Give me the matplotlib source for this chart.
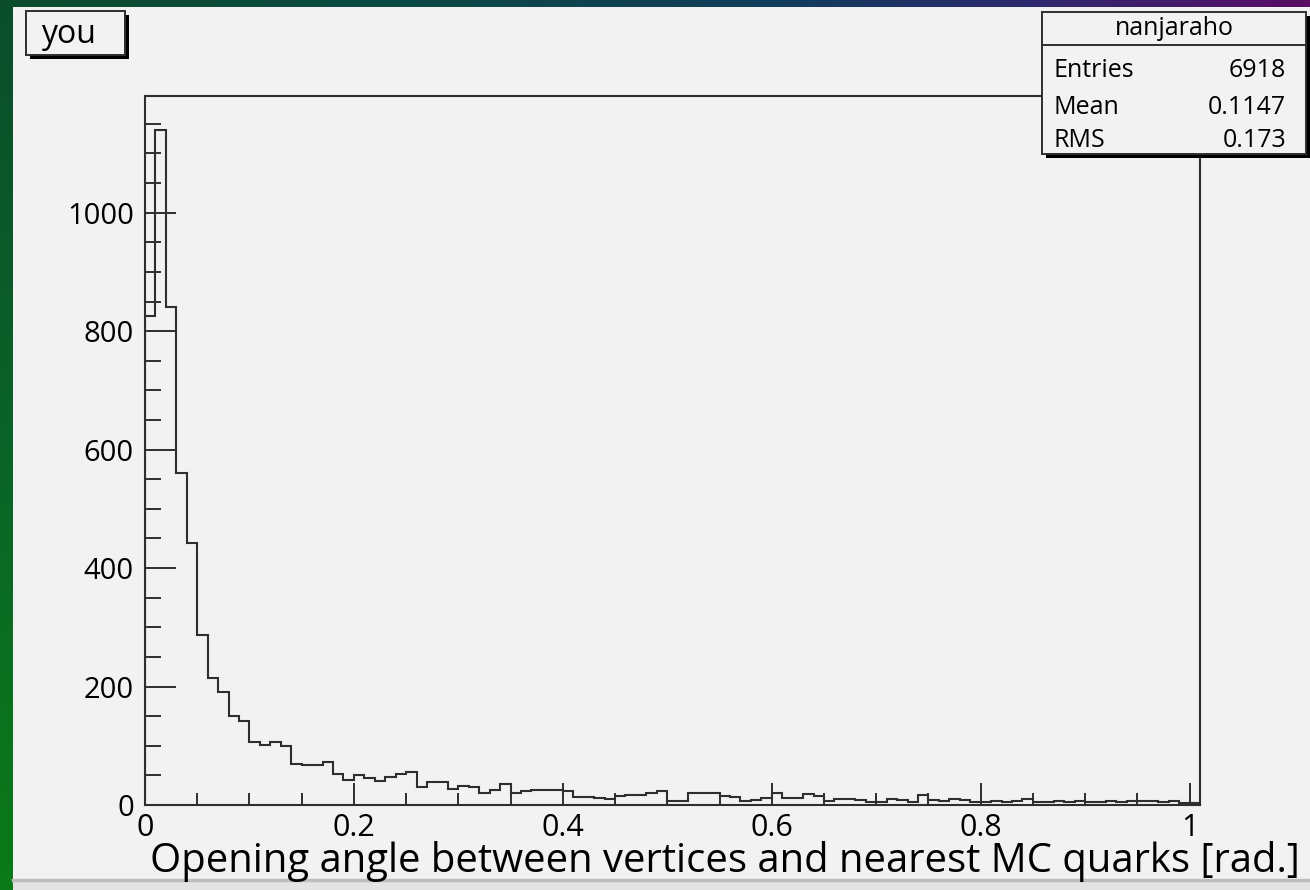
import numpy as np
import matplotlib.pyplot as plt
from matplotlib.colors import LinearSegmentedColormap
from matplotlib.patches import Rectangle
from matplotlib.ticker import MultipleLocator, FixedLocator

plt.rcParams['font.family'] = ['Open Sans', 'DejaVu Sans']

# histogram: 101 bins of 0.01 rad from 0 to 1.01
x_min, x_max, n_bins = 0.0, 1.01, 101
counts = [
    825, 1140, 841, 561, 442, 287, 214, 190, 151, 142,
    106, 101, 106, 99, 69, 67, 67, 73, 53, 42,
    51, 45, 40, 47, 53, 56, 30, 38, 38, 27,
    32, 30, 21, 25, 35, 21, 24, 25, 26, 25,
    23, 14, 14, 12, 10, 15, 17, 17, 21, 24,
    6, 6, 20, 20, 20, 15, 14, 7, 8, 11,
    20, 11, 11, 18, 15, 6, 10, 10, 8, 5,
    5, 10, 8, 5, 17, 9, 6, 10, 8, 5,
    5, 6, 5, 6, 10, 5, 5, 6, 5, 6,
    5, 5, 6, 5, 6, 6, 6, 5, 7, 4,
    4,
]
hist_name = 'nanjaraho'
stat_labels = ['Entries', 'Mean', 'RMS']
stat_values = ['6918', '0.1147', '0.173']
pad_title = 'you'
x_title = 'Opening angle between vertices and nearest MC quarks [rad.]'
x_ticks = [0, 0.2, 0.4, 0.6, 0.8, 1.0]
x_ticklabels = ['0', '0.2', '0.4', '0.6', '0.8', '1']
y_ticks = [0, 200, 400, 600, 800, 1000]

edges = np.linspace(x_min, x_max, n_bins + 1)
line_col = '#2e2e2e'
pad_col = '#f2f2f2'

W, H = 1310, 890
fig = plt.figure(figsize=(W / 100, H / 100), dpi=100)

# background canvas, drawn in pixel coordinates
bg = fig.add_axes([0, 0, 1, 1], zorder=0)
bg.axis('off')

top_cmap = LinearSegmentedColormap.from_list(
    'top', [(0, '#0b4d2c'), (0.3, '#0b4a44'), (0.6, '#123c5c'),
            (0.78, '#2c2a6e'), (1.0, '#5a0e64')])
left_cmap = LinearSegmentedColormap.from_list(
    'left', ['#0b4d2c', '#0a6428', '#0a7a18'])
grad = np.linspace(0, 1, 256)
bg.imshow(grad[None, :], cmap=top_cmap, extent=[0, W, 8, 0], aspect='auto')
bg.imshow(grad[:, None], cmap=left_cmap, extent=[0, 14, H, 0], aspect='auto')
bg.set_xlim(0, W)
bg.set_ylim(H, 0)
bg.add_patch(Rectangle((13, 7), W - 13, 872, facecolor=pad_col, edgecolor='none'))
bg.add_patch(Rectangle((13, 879), W - 13, 11, facecolor='#e4e4e4', edgecolor='none'))
bg.plot([13, W], [880, 880], color='#bdbdbd', lw=2.5)

# main frame
l, r, t, b = 145, 1200, 96, 805
ax = fig.add_axes([l / W, 1 - b / H, (r - l) / W, (b - t) / H], zorder=1)
ax.set_facecolor('none')
ax.stairs(counts, edges, color=line_col, lw=1.5)
ax.set_xlim(x_min, x_max)
ax.set_ylim(0, max(counts) * 1.05)

ax.xaxis.set_major_locator(FixedLocator(x_ticks))
ax.set_xticklabels(x_ticklabels)
ax.xaxis.set_minor_locator(MultipleLocator(0.05))
ax.yaxis.set_major_locator(FixedLocator(y_ticks))
ax.yaxis.set_minor_locator(MultipleLocator(50))
ax.tick_params(axis='y', which='major', direction='in', length=22.3, width=1.4,
               color=line_col, labelsize=21, pad=8)
ax.tick_params(axis='y', which='minor', direction='in', length=11.5, width=1.4,
               color=line_col)
ax.tick_params(axis='x', which='major', direction='in', length=15.8, width=1.4,
               color=line_col, labelsize=22, pad=6)
ax.tick_params(axis='x', which='minor', direction='in', length=8.6, width=1.4,
               color=line_col)
for s in ax.spines.values():
    s.set_color(line_col)
    s.set_linewidth(1.5)

fig.text(1300 / W, 1 - 872 / H, x_title, ha='right', va='baseline', fontsize=28.8)

# overlay boxes
fg = fig.add_axes([0, 0, 1, 1], zorder=2)
fg.set_xlim(0, W)
fg.set_ylim(H, 0)
fg.axis('off')


def shadow_box(x0, y0, x1, y1):
    fg.add_patch(Rectangle((x0 + 4, y0 + 4), x1 - x0, y1 - y0,
                           facecolor='black', edgecolor='none'))
    fg.add_patch(Rectangle((x0, y0), x1 - x0, y1 - y0, facecolor=pad_col,
                           edgecolor=line_col, lw=1.4))


# pad title
shadow_box(26, 11, 125, 55)
fg.text(41, 43, pad_title, ha='left', va='baseline', fontsize=23)

# stats box
shadow_box(1042, 12, 1306, 154)
fg.plot([1042, 1306], [45, 45], color=line_col, lw=1.4)
fg.text(1174, 35, hist_name, ha='center', va='baseline', fontsize=18)
for name, val, yb in zip(stat_labels, stat_values, [77, 114, 147]):
    fg.text(1054, yb, name, ha='left', va='baseline', fontsize=18)
    fg.text(1286, yb, val, ha='right', va='baseline', fontsize=18)

fig.savefig('out.png', dpi=100)
